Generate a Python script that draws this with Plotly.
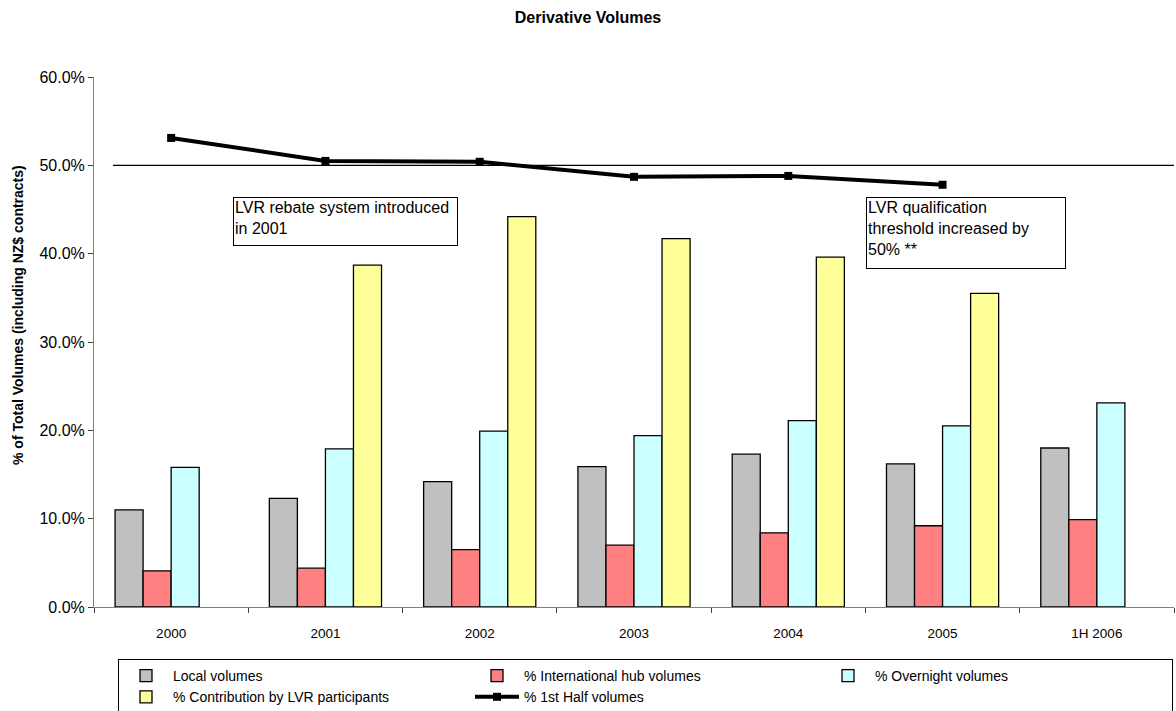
import plotly.graph_objects as go

categories = ["2000", "2001", "2002", "2003", "2004", "2005", "1H 2006"]
local_volumes = [0.110, 0.123, 0.142, 0.159, 0.173, 0.162, 0.180]
intl_hub = [0.041, 0.044, 0.065, 0.070, 0.084, 0.092, 0.099]
overnight = [0.158, 0.179, 0.199, 0.194, 0.211, 0.205, 0.231]
lvr_contribution = [None, 0.387, 0.442, 0.417, 0.396, 0.355, None]
first_half = [0.531, 0.505, 0.504, 0.487, 0.488, 0.478, None]
ref_level = 0.50

series_names = ["Local volumes", "% International hub volumes",
                "% Overnight volumes", "% Contribution by LVR participants"]
series_values = [local_volumes, intl_hub, overnight, lvr_contribution]
series_colors = ["#C0C0C0", "#FF8080", "#CCFFFF", "#FFFF99"]

FONT = "Liberation Sans, Arial, sans-serif"

fig = go.Figure()
for name, vals, col in zip(series_names, series_values, series_colors):
    fig.add_trace(go.Bar(
        x=categories, y=vals, name=name,
        marker=dict(color=col, line=dict(color="black", width=1.3)),
    ))

fig.add_trace(go.Scatter(
    x=categories, y=first_half, name="% 1st Half volumes",
    mode="lines+markers",
    line=dict(color="black", width=4),
    marker=dict(symbol="square", size=8, color="black"),
))

W, H = 1176, 711
L, R, T, B = 94, 2, 77, 104
pw, ph = W - L - R, H - T - B

def px_x(px):
    return (px - L) / pw

def px_y(py):
    return (H - B - py) / ph

fig.add_shape(type="line", xref="paper", yref="y",
              x0=px_x(113), x1=1.0, y0=ref_level, y1=ref_level,
              line=dict(color="black", width=1.2))

fig.add_annotation(
    text="LVR rebate system introduced<br>in 2001",
    xref="paper", yref="paper", x=px_x(233), y=px_y(197),
    xanchor="left", yanchor="top", showarrow=False, align="left",
    valign="top", width=221, height=45, borderpad=1,
    bordercolor="black", borderwidth=1, bgcolor="white",
    font=dict(family=FONT, size=16, color="black"),
)
fig.add_annotation(
    text="LVR qualification<br>threshold increased by<br>50% **",
    xref="paper", yref="paper", x=px_x(866), y=px_y(197),
    xanchor="left", yanchor="top", showarrow=False, align="left",
    valign="top", width=196, height=68, borderpad=1,
    bordercolor="black", borderwidth=1, bgcolor="white",
    font=dict(family=FONT, size=16, color="black"),
)

# y-axis title (placed as rotated text to match original offset)
fig.add_annotation(
    text="<b>% of Total Volumes (including NZ$ contracts)</b>",
    xref="paper", yref="paper", x=px_x(18), y=px_y(315),
    xanchor="center", yanchor="middle", textangle=-90, showarrow=False,
    font=dict(family=FONT, size=14, color="black"),
)

fig.update_layout(
    width=W, height=H,
    margin=dict(l=L, r=R, t=T, b=B, autoexpand=False),
    paper_bgcolor="white", plot_bgcolor="white",
    font=dict(family=FONT, color="black"),
    title=dict(text="<b>Derivative Volumes</b>", x=0.5, xanchor="center",
               y=1 - 17 / H, yanchor="middle",
               font=dict(family=FONT, size=16, color="black")),
    barmode="group", bargap=0.273, bargroupgap=0,
    showlegend=True,
    legend=dict(orientation="h", x=px_x(118), y=px_y(659),
                xanchor="left", yanchor="top",
                bordercolor="black", borderwidth=1, bgcolor="white",
                entrywidth=292, entrywidthmode="pixels",
                font=dict(family=FONT, size=14, color="black"),
                traceorder="normal", itemwidth=44, tracegroupgap=0),
    xaxis=dict(showline=True, linecolor="#808080", linewidth=1,
               ticks="outside", tickson="boundaries", ticklen=5,
               tickcolor="#404040", showgrid=False, automargin=False,
               ticklabelstandoff=14,
               tickfont=dict(family=FONT, size=13.5, color="black")),
    yaxis=dict(range=[0, 0.6], dtick=0.1, tickformat=".1%",
               showline=True, linecolor="#808080", linewidth=1,
               ticks="outside", ticklen=5, tickcolor="#404040",
               showgrid=False, zeroline=False, automargin=False,
               tickfont=dict(family=FONT, size=16, color="black")),
)

fig.write_html(
    "out.html",
    config={"displayModeBar": False},
    post_script="document.body.style.margin='0';document.body.style.overflow='hidden';",
)
